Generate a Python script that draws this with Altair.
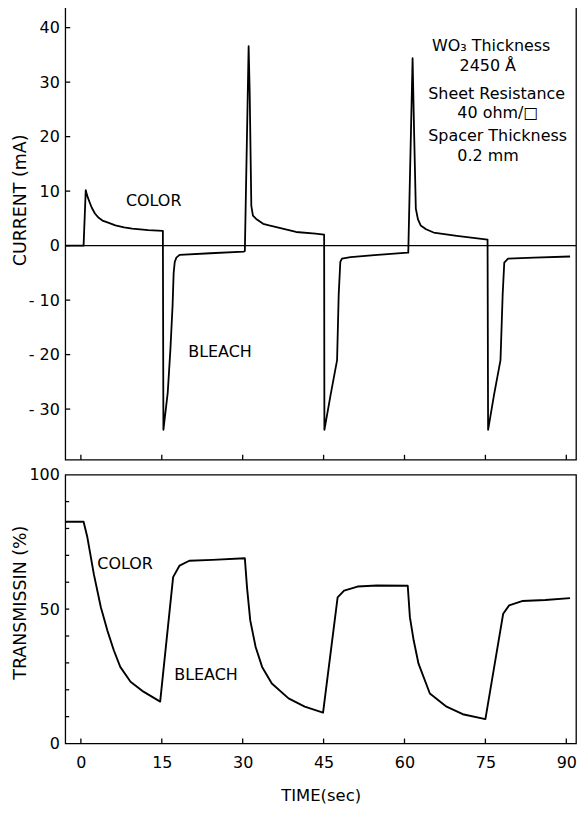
import altair as alt
import pandas as pd

# ---------------- data ----------------
# Current trace (mA) vs time (s)
cur_t = [-2.9, 0.5, 0.9, 1.1, 1.3, 1.6, 2.0, 2.6, 3.3, 4.0, 4.8, 6.4, 8.0, 9.5, 12.5, 15.2,
         15.3, 16.1, 16.6, 17.0, 17.2, 17.4, 17.7, 18.3, 24.0, 30.2,
         30.4, 31.1, 31.3, 31.6, 31.9, 32.5, 33.8, 34.9, 37.4, 39.9, 43.5, 45.1,
         45.15, 46.3, 47.5, 47.8, 48.1, 48.4, 50.0, 55.0, 60.6,
         60.7, 61.5, 61.8, 62.1, 62.5, 63.0, 64.0, 65.4, 69.7, 75.4,
         75.5, 76.6, 77.8, 78.2, 78.5, 79.2, 84.0, 90.7]
cur_i = [0.0, 0.0, 10.2, 9.4, 8.8, 8.0, 7.0, 5.9, 5.1, 4.6, 4.3, 3.7, 3.35, 3.1, 2.85, 2.7,
         -33.8, -27.0, -19.0, -11.0, -5.0, -3.0, -2.2, -1.7, -1.4, -1.1,
         -1.0, 36.6, 28.0, 7.3, 5.5, 4.9, 4.0, 3.7, 3.1, 2.5, 2.2, 2.0,
         -33.8, -27.4, -21.0, -9.0, -3.0, -2.4, -2.1, -1.7, -1.3,
         -1.3, 34.4, 20.0, 6.8, 4.8, 3.7, 3.0, 2.4, 1.8, 1.1,
         -33.8, -27.4, -21.0, -9.0, -3.1, -2.4, -2.2, -2.0]

# Transmission (%) vs time (s)
tr_t = [-2.9, 0.5, 1.2, 2.4, 3.7, 4.9, 6.1, 7.3, 9.2, 11.6, 14.7,
        17.1, 18.3, 20.1, 24.4, 30.4,
        30.8, 31.4, 32.4, 33.6, 35.4, 38.5, 41.5, 44.9,
        47.6, 48.8, 51.3, 54.9, 60.6,
        61.0, 61.7, 62.6, 64.7, 67.8, 70.8, 75.0,
        78.3, 79.4, 81.8, 86.1, 90.7]
tr_v = [82.5, 82.5, 76.7, 63.0, 50.7, 42.1, 34.7, 28.5, 23.0, 19.3, 15.6,
        61.9, 66.2, 68.0, 68.3, 68.9,
        58.1, 45.8, 35.9, 28.5, 22.3, 16.8, 13.7, 11.5,
        54.4, 56.9, 58.4, 58.8, 58.7,
        47.0, 38.4, 29.7, 18.6, 13.7, 10.9, 9.1,
        48.3, 51.4, 53.0, 53.4, 54.1]

# tick values
x_ticks = [0, 15, 30, 45, 60, 75, 90]
cur_ticks = [-30, -20, -10, 0, 10, 20, 30, 40]
tr_label_ticks = [0, 50, 100]
tr_minor_ticks = [10, 20, 30, 40, 50, 60, 70, 80, 90]

# annotations (label, time, value)
cur_notes_label = ["COLOR", "BLEACH"]
cur_notes_t = [13.5, 25.8]
cur_notes_v = [8.2, -19.6]

info_label = ["WO\u2083 Thickness", "2450 \u00c5", "Sheet Resistance",
              "40 ohm/\u25a1", "Spacer Thickness", "0.2 mm"]
info_t = [65.1, 70.2, 64.4, 69.8, 64.4, 69.8]
info_v = [36.6, 32.9, 27.9, 24.3, 20.1, 16.5]

tr_notes_label = ["COLOR", "BLEACH"]
tr_notes_t = [8.2, 23.2]
tr_notes_v = [66.7, 25.6]

# ---------------- chart ----------------
FONT = "DejaVu Sans"
W = 513
H1 = 457
H2 = 270

x_scale = alt.Scale(domain=[-2.9, 91.8], nice=False, zero=False)
y1_scale = alt.Scale(domain=[-39.3, 44.2], nice=False, zero=False)
y2_scale = alt.Scale(domain=[0, 100], nice=False, zero=False)

common_axis = dict(ticks=False, domain=False, grid=False,
                   labelFont=FONT, labelFontSize=16, labelColor="black",
                   titleFont=FONT, titleFontWeight="normal", titleColor="black")

y1_axis = alt.Axis(values=cur_ticks, title="CURRENT (mA)",
                   labelExpr="datum.value < 0 ? '- ' + abs(datum.value) : datum.label",
                   labelPadding=6, titleFontSize=17.5, titleX=-36, titleY=196,
                   **common_axis)
y2_axis = alt.Axis(values=tr_label_ticks, title="TRANSMISSIN (%)",
                   labelPadding=6, titleFontSize=17.5, titleX=-36, titleY=128,
                   **common_axis)
x2_axis = alt.Axis(values=x_ticks, title="TIME(sec)", labelPadding=11,
                   titleFontSize=16.5, titleY=52, titleBaseline="middle",
                   **common_axis)

def xe1():
    return alt.X("t:Q", scale=x_scale, axis=None)

def ye1():
    return alt.Y("v:Q", scale=y1_scale, axis=y1_axis)

def xe2():
    return alt.X("t:Q", scale=x_scale, axis=x2_axis)

def ye2():
    return alt.Y("v:Q", scale=y2_scale, axis=y2_axis)

cur_df = pd.DataFrame({"t": cur_t, "v": cur_i})
tr_df = pd.DataFrame({"t": tr_t, "v": tr_v})

# ---- top panel ----
zero_line = alt.Chart(pd.DataFrame({"v": [0]})).mark_rule(
    color="black", strokeWidth=1.3).encode(y=ye1())

cur_line = alt.Chart(cur_df).mark_line(
    color="black", strokeWidth=1.8, strokeJoin="round").encode(x=xe1(), y=ye1())

top_xt = alt.Chart(pd.DataFrame({"t": x_ticks})).mark_rule(
    color="black", strokeWidth=1.3).encode(
    x=xe1(), y=alt.value(H1), y2=alt.value(H1 - 5))

top_yt = alt.Chart(pd.DataFrame({"v": cur_ticks})).mark_rule(
    color="black", strokeWidth=1.3).encode(
    y=ye1(), x=alt.value(0), x2=alt.value(5))

cur_notes = alt.Chart(pd.DataFrame({"t": cur_notes_t, "v": cur_notes_v,
                                    "label": cur_notes_label})).mark_text(
    font=FONT, fontSize=16, color="black", align="center", baseline="middle").encode(
    x=xe1(), y=ye1(), text="label:N")

info = alt.Chart(pd.DataFrame({"t": info_t, "v": info_v, "label": info_label})).mark_text(
    font=FONT, fontSize=16, color="black", align="left", baseline="middle").encode(
    x=xe1(), y=ye1(), text="label:N")

top = alt.layer(zero_line, cur_line, top_xt, top_yt, cur_notes, info).properties(
    width=W, height=H1)

# ---- bottom panel ----
tr_line = alt.Chart(tr_df).mark_line(
    color="black", strokeWidth=1.9, strokeJoin="round").encode(x=xe2(), y=ye2())

bot_xt = alt.Chart(pd.DataFrame({"t": x_ticks})).mark_rule(
    color="black", strokeWidth=1.3).encode(
    x=xe2(), y=alt.value(H2), y2=alt.value(H2 - 5))

bot_yt = alt.Chart(pd.DataFrame({"v": tr_minor_ticks})).mark_rule(
    color="black", strokeWidth=1.3).encode(
    y=ye2(), x=alt.value(0), x2=alt.value(4))

tr_notes = alt.Chart(pd.DataFrame({"t": tr_notes_t, "v": tr_notes_v,
                                   "label": tr_notes_label})).mark_text(
    font=FONT, fontSize=16, color="black", align="center", baseline="middle").encode(
    x=xe2(), y=ye2(), text="label:N")

bottom = alt.layer(tr_line, bot_xt, bot_yt, tr_notes).properties(width=W, height=H2)

chart = alt.vconcat(top, bottom, spacing=4).properties(
    padding={"left": 2.5, "top": -6, "right": 0, "bottom": 0},
    background="white",
).configure_view(stroke="black", strokeWidth=1.3)

chart.save("out.html", embed_options={"renderer": "svg", "actions": False})
